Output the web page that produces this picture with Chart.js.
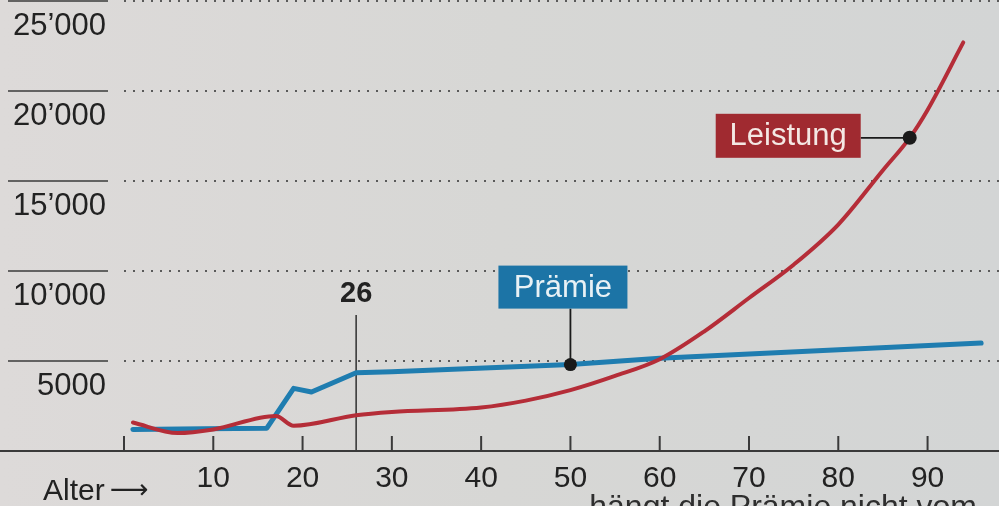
<!DOCTYPE html>
<html>
<head>
<meta charset="utf-8">
<script src="https://cdn.jsdelivr.net/npm/chart.js@4.4.1/dist/chart.umd.min.js"></script>
<style>
  html, body { margin: 0; padding: 0; background: #d8d8d6; }
  #wrap { width: 999px; height: 506px; position: relative; }
</style>
</head>
<body>
<div id="wrap"><canvas id="chart" width="999" height="506"></canvas></div>
<script>
// Leistung (Kosten) und Prämie nach Alter
const leistungAlter = [1, 6, 10, 17, 19, 26, 30, 40, 45, 50, 55, 60, 65, 70, 75, 80, 85, 88, 90, 94];
const leistungWerte = [1580, 1000, 1200, 1950, 1400, 1990, 2170, 2420, 2800, 3380, 4170, 5100, 6650, 8500, 10350, 12580, 15600, 17400, 18950, 22700];

const praemieAlter = [1, 9, 16, 19, 21, 26, 30, 50, 60, 96];
const praemieWerte = [1200, 1230, 1270, 3480, 3280, 4350, 4400, 4800, 5150, 6000];

const xTicks = [0, 10, 20, 30, 40, 50, 60, 70, 80, 90];
const yTicks = [0, 5000, 10000, 15000, 20000, 25000];
const yLabels = ['', '5000', '10\u2019000', '15\u2019000', '20\u2019000', '25\u2019000'];

const markerAlter = 26;
const praemieDotAlter = 50;
const leistungDotAlter = 88;

const FONT = '"Liberation Sans", Arial, Helvetica, sans-serif';
const INK = '#222222';
const RED = '#b52d38';
const BLUE = '#1f7db0';

function valueAt(ages, vals, a) {
  return vals[ages.indexOf(a)];
}

const paper = {
  id: 'paper',
  beforeDraw(chart) {
    const { ctx, width, height } = chart;
    const g = ctx.createLinearGradient(0, 0, width, 0);
    g.addColorStop(0, '#dddad9');
    g.addColorStop(0.5, '#d7d7d5');
    g.addColorStop(1, '#d3d5d5');
    ctx.save();
    ctx.fillStyle = g;
    ctx.fillRect(0, 0, width, height);
    ctx.restore();
  },
  beforeDatasetsDraw(chart) {
    const { ctx, scales: { x, y } } = chart;
    ctx.save();
    // short solid lines and value labels on the left
    ctx.strokeStyle = '#3a3a3a';
    ctx.lineWidth = 1.6;
    ctx.fillStyle = INK;
    ctx.font = '31px ' + FONT;
    ctx.textAlign = 'right';
    ctx.textBaseline = 'alphabetic';
    yTicks.forEach((v, i) => {
      if (v === 0) return;
      const py = Math.max(y.getPixelForValue(v), 1);
      ctx.beginPath();
      ctx.moveTo(8, py);
      ctx.lineTo(108, py);
      ctx.stroke();
      ctx.fillText(yLabels[i], 106, py + 34);
    });

    // x axis line over the full width
    const base = y.getPixelForValue(0);
    ctx.lineWidth = 2.2;
    ctx.beginPath();
    ctx.moveTo(0, base);
    ctx.lineTo(chart.width, base);
    ctx.stroke();

    // upward ticks
    ctx.lineWidth = 2;
    xTicks.forEach(v => {
      const px = x.getPixelForValue(v);
      ctx.beginPath();
      ctx.moveTo(px, base);
      ctx.lineTo(px, base - 15);
      ctx.stroke();
    });

    // marker at age 26
    const mx = x.getPixelForValue(markerAlter);
    ctx.lineWidth = 1.6;
    ctx.beginPath();
    ctx.moveTo(mx, base);
    ctx.lineTo(mx, 315);
    ctx.stroke();
    ctx.font = 'bold 29px ' + FONT;
    ctx.textAlign = 'center';
    ctx.fillText(String(markerAlter), mx, 302);

    // axis title
    ctx.font = '30px ' + FONT;
    ctx.textAlign = 'left';
    ctx.fillText('Alter', 43, 500);
    ctx.font = '27px "DejaVu Sans", sans-serif';
    ctx.fillText('\u27f6', 110, 498);

    // body text cut off at the bottom
    ctx.font = '32px ' + FONT;
    ctx.fillStyle = '#2e2e2e';
    ctx.textAlign = 'right';
    ctx.fillText('hängt die Prämie nicht vom', 977, 517);
    ctx.restore();
  },
  afterDatasetsDraw(chart) {
    const { ctx, scales: { x, y } } = chart;
    ctx.save();
    ctx.font = '31px ' + FONT;
    ctx.textBaseline = 'middle';
    ctx.textAlign = 'center';

    // Prämie label
    const px = x.getPixelForValue(praemieDotAlter);
    const py = y.getPixelForValue(valueAt(praemieAlter, praemieWerte, praemieDotAlter));
    const bx = px - 72, by = py - 99, bw = 129, bh = 43;
    ctx.strokeStyle = '#1a1a1a';
    ctx.lineWidth = 1.8;
    ctx.beginPath();
    ctx.moveTo(px, by + bh);
    ctx.lineTo(px, py);
    ctx.stroke();
    ctx.fillStyle = '#1c74a6';
    ctx.fillRect(bx, by, bw, bh);
    ctx.fillStyle = '#e8f1f5';
    ctx.fillText('Prämie', bx + bw / 2, by + bh / 2 + 1);
    ctx.fillStyle = '#1a1a1a';
    ctx.beginPath();
    ctx.arc(px, py, 6.5, 0, Math.PI * 2);
    ctx.fill();

    // Leistung label
    const lx = x.getPixelForValue(leistungDotAlter);
    const ly = y.getPixelForValue(valueAt(leistungAlter, leistungWerte, leistungDotAlter));
    const kx = lx - 194, ky = ly - 24, kw = 145, kh = 44;
    ctx.beginPath();
    ctx.moveTo(kx + kw, ly);
    ctx.lineTo(lx, ly);
    ctx.stroke();
    ctx.fillStyle = '#a02a30';
    ctx.fillRect(kx, ky, kw, kh);
    ctx.fillStyle = '#f4e8e4';
    ctx.fillText('Leistung', kx + kw / 2, ky + kh / 2 + 1);
    ctx.fillStyle = '#1a1a1a';
    ctx.beginPath();
    ctx.arc(lx, ly, 7, 0, Math.PI * 2);
    ctx.fill();
    ctx.restore();
  }
};

new Chart(document.getElementById('chart'), {
  type: 'line',
  data: {
    datasets: [
      {
        label: 'Leistung',
        data: leistungAlter.map((a, i) => ({ x: a, y: leistungWerte[i] })),
        borderColor: RED,
        borderWidth: 4,
        pointRadius: 0,
        cubicInterpolationMode: 'monotone',
        borderCapStyle: 'round',
        borderJoinStyle: 'round'
      },
      {
        label: 'Prämie',
        data: praemieAlter.map((a, i) => ({ x: a, y: praemieWerte[i] })),
        borderColor: BLUE,
        borderWidth: 5,
        pointRadius: 0,
        tension: 0,
        borderCapStyle: 'round',
        borderJoinStyle: 'round'
      }
    ]
  },
  options: {
    responsive: false,
    animation: false,
    events: [],
    layout: { padding: { left: 124, right: 0, top: 1, bottom: 0 } },
    plugins: { legend: { display: false }, tooltip: { enabled: false } },
    scales: {
      x: {
        type: 'linear',
        min: 0,
        max: 98,
        afterBuildTicks: s => { s.ticks = xTicks.map(v => ({ value: v })); },
        afterFit: s => { s.height = 55; },
        grid: { display: false, drawTicks: false },
        border: { display: false },
        ticks: {
          padding: 10,
          color: INK,
          font: { family: FONT, size: 30 },
          callback: v => (v === 0 ? '' : v)
        }
      },
      y: {
        min: 0,
        max: 25000,
        afterBuildTicks: s => { s.ticks = yTicks.map(v => ({ value: v })); },
        afterFit: s => { s.width = 0; },
        ticks: { display: false },
        border: { display: false, dash: [2, 7] },
        grid: {
          drawTicks: false,
          lineWidth: 2,
          color: c => (c.tick && c.tick.value === 0 ? 'rgba(0,0,0,0)' : '#5a5a5a')
        }
      }
    }
  },
  plugins: [paper]
});
</script>
</body>
</html>
